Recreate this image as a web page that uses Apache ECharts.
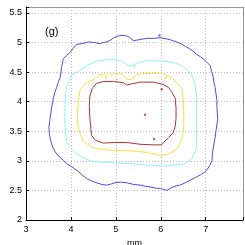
<!DOCTYPE html>
<html><head><meta charset="utf-8">
<script src="https://cdn.jsdelivr.net/npm/echarts@6/dist/echarts.min.js"></script>
<style>html,body{margin:0;padding:0;background:#fff}#c{width:245px;height:245px}</style>
</head><body><div id="c"></div>
<script>
// contour paths [x mm, y mm]
var blue = [[4.39,5.01],[4.25,4.98],[4.13,4.97],[4.05,4.9],[3.98,4.83],[3.9,4.78],[3.83,4.72],[3.81,4.65],[3.79,4.58],[3.78,4.5],[3.76,4.41],[3.72,4.33],[3.68,4.24],[3.64,4.15],[3.61,4.07],[3.59,3.98],[3.57,3.9],[3.55,3.8],[3.53,3.68],[3.51,3.57],[3.52,3.46],[3.54,3.37],[3.57,3.29],[3.6,3.22],[3.65,3.15],[3.7,3.1],[3.76,3.06],[3.84,3.0],[3.91,2.95],[4.02,2.9],[4.13,2.84],[4.24,2.77],[4.35,2.7],[4.46,2.66],[4.57,2.63],[4.69,2.6],[4.8,2.59],[4.9,2.61],[4.98,2.63],[5.1,2.64],[5.24,2.63],[5.4,2.6],[5.54,2.59],[5.66,2.57],[5.76,2.56],[5.88,2.54],[5.98,2.53],[6.06,2.52],[6.13,2.5],[6.2,2.53],[6.28,2.56],[6.36,2.58],[6.43,2.59],[6.55,2.63],[6.65,2.67],[6.77,2.72],[6.88,2.76],[6.96,2.8],[7.02,2.84],[7.09,2.92],[7.14,3.01],[7.15,3.12],[7.17,3.23],[7.19,3.31],[7.21,3.4],[7.23,3.51],[7.25,3.62],[7.27,3.7],[7.26,3.79],[7.25,3.9],[7.25,4.02],[7.23,4.13],[7.21,4.24],[7.18,4.33],[7.17,4.41],[7.13,4.51],[7.1,4.61],[7.02,4.67],[6.95,4.72],[6.88,4.76],[6.8,4.8],[6.72,4.85],[6.65,4.89],[6.56,4.93],[6.47,4.97],[6.38,5.0],[6.28,5.03],[6.14,5.06],[5.98,5.08],[5.84,5.07],[5.69,5.07],[5.54,5.05],[5.39,5.03],[5.3,5.09],[5.24,5.11],[5.16,5.12],[5.09,5.12],[5.02,5.1],[4.95,5.08],[4.88,5.04],[4.8,5.01],[4.72,5.0],[4.65,4.98],[4.52,5.0],[4.39,5.01]];
var cyan = [[4.2,4.53],[4.38,4.62],[4.57,4.68],[4.8,4.71],[4.98,4.71],[5.17,4.68],[5.28,4.6],[5.42,4.63],[5.64,4.69],[5.86,4.69],[6.13,4.68],[6.35,4.65],[6.58,4.55],[6.69,4.44],[6.76,4.3],[6.8,4.07],[6.8,3.85],[6.8,3.62],[6.8,3.39],[6.79,3.2],[6.69,3.03],[6.5,2.94],[6.28,2.93],[6.06,2.91],[5.8,2.92],[5.5,2.94],[5.2,2.96],[4.91,2.97],[4.65,2.98],[4.46,3.0],[4.32,3.03],[4.14,3.11],[3.99,3.22],[3.9,3.33],[3.88,3.5],[3.86,3.73],[3.87,3.95],[3.88,4.12],[3.92,4.29],[4.0,4.44],[4.2,4.53]];
var yellow = [[4.5,4.37],[4.65,4.46],[4.88,4.47],[5.13,4.47],[5.24,4.38],[5.35,4.37],[5.46,4.46],[5.69,4.48],[5.98,4.48],[6.1,4.46],[6.26,4.39],[6.39,4.3],[6.47,4.2],[6.5,4.05],[6.51,3.85],[6.51,3.62],[6.5,3.48],[6.46,3.34],[6.36,3.2],[6.21,3.13],[6.0,3.08],[5.83,3.12],[5.54,3.16],[5.24,3.17],[4.88,3.18],[4.65,3.2],[4.46,3.23],[4.27,3.34],[4.2,3.46],[4.15,3.62],[4.15,3.85],[4.17,4.05],[4.21,4.21],[4.34,4.32],[4.5,4.37]];
var red = [[4.57,4.31],[4.72,4.34],[4.95,4.34],[5.17,4.32],[5.24,4.28],[5.35,4.3],[5.54,4.33],[5.84,4.33],[6.06,4.29],[6.17,4.24],[6.24,4.17],[6.32,4.06],[6.34,3.89],[6.34,3.72],[6.32,3.58],[6.27,3.47],[6.17,3.39],[6.06,3.31],[6.02,3.27],[5.84,3.27],[5.54,3.28],[5.24,3.31],[4.95,3.31],[4.72,3.3],[4.54,3.35],[4.46,3.43],[4.44,3.57],[4.42,3.74],[4.41,3.92],[4.42,4.09],[4.48,4.23],[4.57,4.31]];
var redDots = [[5.65,3.78],[5.85,3.37],[6.02,4.21]];
var yellowDots = [[6.11,4.4],[4.78,4.41]];
var cyanDots = [[5.41,4.6]];
var blueDots = [[5.97,5.12]];
var xTicks = [3,4,5,6,7];
var yTicks = [2,2.5,3,3.5,4,4.5,5,5.5];
var panelLabel = '(g)';

var chart = echarts.init(document.getElementById('c'), null, {renderer:'canvas'});
var font = 'Liberation Sans, Arial, Helvetica, sans-serif';
function line(d, c){return {type:'line', data:d, symbol:'none', smooth:false, lineStyle:{color:c, width:1}, silent:true, animation:false, z:3};}
function dots(d, c){return {type:'scatter', data:d, symbolSize:2.5, itemStyle:{color:c}, silent:true, animation:false, z:4};}
chart.setOption({
  animation:false,
  grid:{left:26, right:2, top:7, bottom:25, containLabel:false, outerBoundsMode:'none'},
  xAxis:[{type:'value', min:3, max:7.83, interval:1,
    axisLine:{show:true, lineStyle:{color:'#000', width:1}},
    axisTick:{show:true, inside:true, length:3, lineStyle:{color:'#000'}},
    axisLabel:{color:'#000', fontFamily:font, fontSize:9, margin:5,
      formatter:function(v){return xTicks.indexOf(Math.round(v*100)/100)>=0 ? String(v) : '';}},
    splitLine:{show:true, lineStyle:{color:'#bdbdbd', type:[1,2], width:1}},
    name:'mm', nameLocation:'middle', nameGap:13, nameTextStyle:{fontFamily:font, fontSize:9, color:'#000'}},
   {type:'value', position:'top', min:3, max:7.83, interval:1, axisLine:{show:true, lineStyle:{color:'#999'}}, axisTick:{show:false}, axisLabel:{show:false}, splitLine:{show:false}}],
  yAxis:[{type:'value', min:2, max:5.6, interval:0.5,
    axisLine:{show:true, lineStyle:{color:'#000', width:1}},
    axisTick:{show:true, inside:true, length:3, lineStyle:{color:'#000'}},
    axisLabel:{color:'#000', fontFamily:font, fontSize:9, margin:4,
      formatter:function(v){return yTicks.indexOf(Math.round(v*100)/100)>=0 ? String(v) : '';}},
    splitLine:{show:true, lineStyle:{color:'#bdbdbd', type:[1,2], width:1}},
    name:'mm', nameLocation:'middle', nameGap:18, nameRotate:90, nameTextStyle:{fontFamily:font, fontSize:9, color:'#000'}},
   {type:'value', position:'right', min:2, max:5.6, interval:0.5, axisLine:{show:true, lineStyle:{color:'#999'}}, axisTick:{show:false}, axisLabel:{show:false}, splitLine:{show:false}}],
  graphic:[{type:'text', left:45, top:26, style:{text:panelLabel, font:'11px Liberation Sans, Arial, sans-serif', fill:'#000'}}],
  series:[line(blue,'#4b4be0'), line(cyan,'#8af6f2'), line(yellow,'#f4e040'), line(red,'#aa3434'),
    dots(redDots,'#aa3434'), dots(yellowDots,'#f4e040'), dots(cyanDots,'#8af6f2'), dots(blueDots,'#4b4be0')]
});
</script></body></html>
